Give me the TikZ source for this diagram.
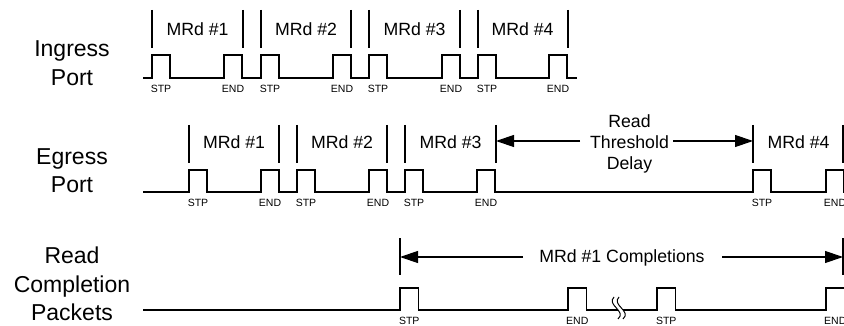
\documentclass[tikz,border=0pt]{standalone}
\usepackage{fontspec}
\setmainfont{Liberation Sans}
\usetikzlibrary{arrows.meta}
\begin{document}
\begin{tikzpicture}[x=1pt,y=-1pt,
  wave/.style={line width=1.2pt, line join=miter},
  marker/.style={line width=1.2pt},
  dimarrow/.style={line width=1.2pt, -{Triangle[length=18pt,width=12pt]}},
  rowlabel/.style={font=\fontsize{23}{28.5}\selectfont, anchor=base, inner sep=0pt},
  mrd/.style={font=\fontsize{17.7}{21}\selectfont, anchor=base, inner sep=0pt},
  tick/.style={font=\fontsize{10.5}{12}\selectfont, anchor=base, inner sep=0pt}]
\useasboundingbox (0,0) rectangle (844,326);
\clip (0,0) rectangle (844,326);

% ---------- row labels ----------
\node[rowlabel] (ing1) at (72,57) {Ingress};
\node[rowlabel] (ing2) at (72,86) {Port};
\node[rowlabel] (egr1) at (72,165) {Egress};
\node[rowlabel] (egr2) at (72,193) {Port};
\node[rowlabel] (rcp1) at (72,263) {Read};
\node[rowlabel] (rcp2) at (72,292) {Completion};
\node[rowlabel] (rcp3) at (72,320) {Packets};

% ---------- Ingress port ----------
\draw[wave] (143,78) foreach \a in {152,224,261,333,369,442,478,549}
  { -- (\a,78) -- (\a,55) -- ({\a+18},55) -- ({\a+18},78) } -- (577,78);
\foreach \a/\t [count=\i] in {152/STP,224/END,261/STP,333/END,369/STP,442/END,478/STP,549/END}
  \node[tick] (il\i) at ({\a+9},93) {\t};
\foreach \x [count=\i] in {152,243,261,351,369,460,478,568}
  \draw[marker] (\x,10) -- (\x,48);
\foreach \x/\t [count=\i] in {197.5/1,306/2,414.5/3,522.5/4}
  \node[mrd] (im\i) at (\x,36) {MRd \#\t};

% ---------- Egress port ----------
\draw[wave] (143,192) foreach \a in {189,261,297,369,405,477,753,826}
  { -- (\a,192) -- (\a,170) -- ({\a+18},170) -- ({\a+18},192) } -- (860,192);
\foreach \a/\t [count=\i] in {189/STP,261/END,297/STP,369/END,405/STP,477/END,753/STP,826/END}
  \node[tick] (el\i) at ({\a+9},207) {\t};
\foreach \x [count=\i] in {189,279,297,387,405,496,753,843}
  \draw[marker] (\x,125) -- (\x,163);
\foreach \x/\t [count=\i] in {234/1,342/2,450.5/3,798.5/4}
  \node[mrd] (em\i) at (\x,149) {MRd \#\t};

\node[mrd] (rtd1) at (629.5,128) {Read};
\node[mrd] (rtd2) at (629.5,149) {Threshold};
\node[mrd] (rtd3) at (629.5,170) {Delay};
\coordinate (eml) at (496,141);
\coordinate (emr) at (753,141);
\coordinate (rtdl) at (580,141);
\coordinate (rtdr) at (673,141);
\draw[dimarrow] (rtdl) -- (eml);
\draw[dimarrow] (rtdr) -- (emr);

% ---------- Read completion packets ----------
\draw[wave] (143,310) foreach \a in {400,568,657,826}
  { -- (\a,310) -- (\a,288) -- ({\a+18.5},288) -- ({\a+18.5},310) } -- (860,310);
\foreach \a/\t [count=\i] in {400/STP,568/END,657/STP,826/END}
  \node[tick] (rl\i) at ({\a+9.25},324.3) {\t};
\foreach \x [count=\i] in {400,843}
  \draw[marker] (\x,238) -- (\x,275);
\node[mrd] (cpl) at (622,262.5) {MRd \#1 Completions};
\coordinate (rml) at (400,257);
\coordinate (rmr) at (843,257);
\coordinate (cpll) at (523,257);
\coordinate (cplr) at (722,257);
\draw[dimarrow] (cpll) -- (rml);
\draw[dimarrow] (cplr) -- (rmr);

% break symbol
\fill[white] (614,297) .. controls (606,305) and (627,311) .. (618,319)
  -- (623,319) .. controls (632,311) and (611,305) .. (619,297) -- cycle;
\draw[line width=1pt] (614,297) .. controls (606,305) and (627,311) .. (618,319);
\draw[line width=1pt] (619,297) .. controls (611,305) and (632,311) .. (623,319);
\end{tikzpicture}
\end{document}
